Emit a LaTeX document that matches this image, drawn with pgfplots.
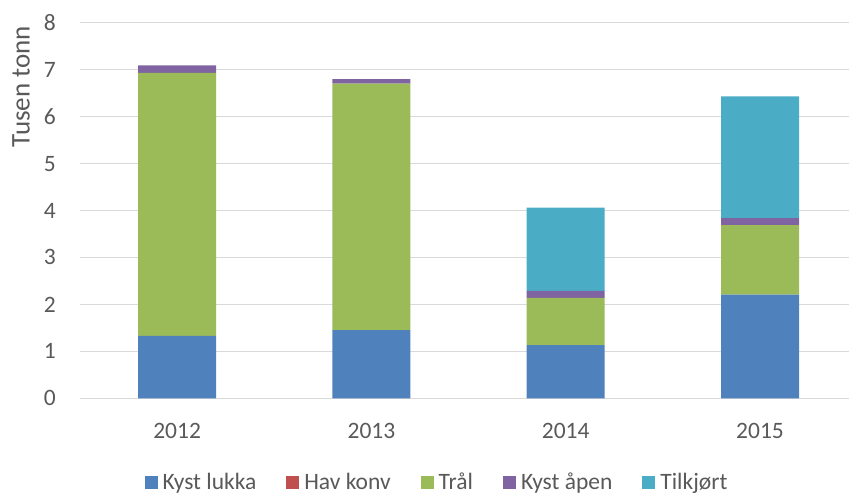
\documentclass[border=0pt]{standalone}
\usepackage{pgfplots}
\pgfplotsset{compat=1.18}
\usepackage{fontspec}
\setmainfont{Carlito}
\definecolor{c1}{HTML}{4F81BD}
\definecolor{c2}{HTML}{C0504D}
\definecolor{c3}{HTML}{9BBB59}
\definecolor{c4}{HTML}{8064A2}
\definecolor{c5}{HTML}{4BACC6}
\definecolor{txt}{HTML}{595959}
\definecolor{grd}{HTML}{D9D9D9}
\begin{document}
\begin{tikzpicture}
\begin{axis}[
  at={(0,0)}, anchor=south west,
  scale only axis, width=769pt, height=375.6pt,
  ybar stacked, bar width=78pt,
  xmin=-0.5, xmax=3.458, ymin=0, ymax=8,
  xtick={0,1,2,3}, xticklabels={2012,2013,2014,2015},
  ytick={0,1,...,8},
  /pgf/number format/assume math mode=true,
  ymajorgrids, grid style={draw=grd, line width=1.3pt},
  axis line style={draw=none},
  tick style={draw=none},
  ticklabel style={font=\fontsize{23.5}{27}\selectfont, text=txt, inner sep=0pt},
  xticklabel shift=25pt,
  yticklabel shift=24pt,
  ylabel={Tusen tonn},
  ylabel style={font=\fontsize{27}{30}\selectfont, text=txt, anchor=center, at={(axis description cs:-0.0768,0.830)}},
  legend columns=-1,
  legend style={draw=none, fill=none, at={(axis description cs:0.463,-0.223)}, anchor=center,
    font=\fontsize{23.5}{27}\selectfont, text=txt, inner sep=0pt,
    /tikz/every even column/.append style={column sep=30pt},
    nodes={inner sep=0pt}},
  legend image code/.code={\fill[#1] (0pt,-6.5pt) rectangle (13pt,6.5pt);},
  legend cell align=left,
]
\addplot[fill=c1, draw=none] coordinates {(0,1.33) (1,1.45) (2,1.13) (3,2.21)};
\addplot[fill=c2, draw=none] coordinates {(0,0) (1,0) (2,0) (3,0)};
\addplot[fill=c3, draw=none] coordinates {(0,5.60) (1,5.25) (2,1.01) (3,1.48)};
\addplot[fill=c4, draw=none] coordinates {(0,0.16) (1,0.10) (2,0.15) (3,0.15)};
\addplot[fill=c5, draw=none] coordinates {(0,0) (1,0) (2,1.77) (3,2.59)};
\legend{\hspace{5pt}Kyst lukka,\hspace{5pt}Hav konv,\hspace{5pt}Trål,\hspace{5pt}Kyst åpen,\hspace{5pt}Tilkjørt}
\end{axis}
\pgfresetboundingbox
\path[use as bounding box] (-80pt,-95.7pt) rectangle (769pt,398.3pt);
\end{tikzpicture}
\end{document}
